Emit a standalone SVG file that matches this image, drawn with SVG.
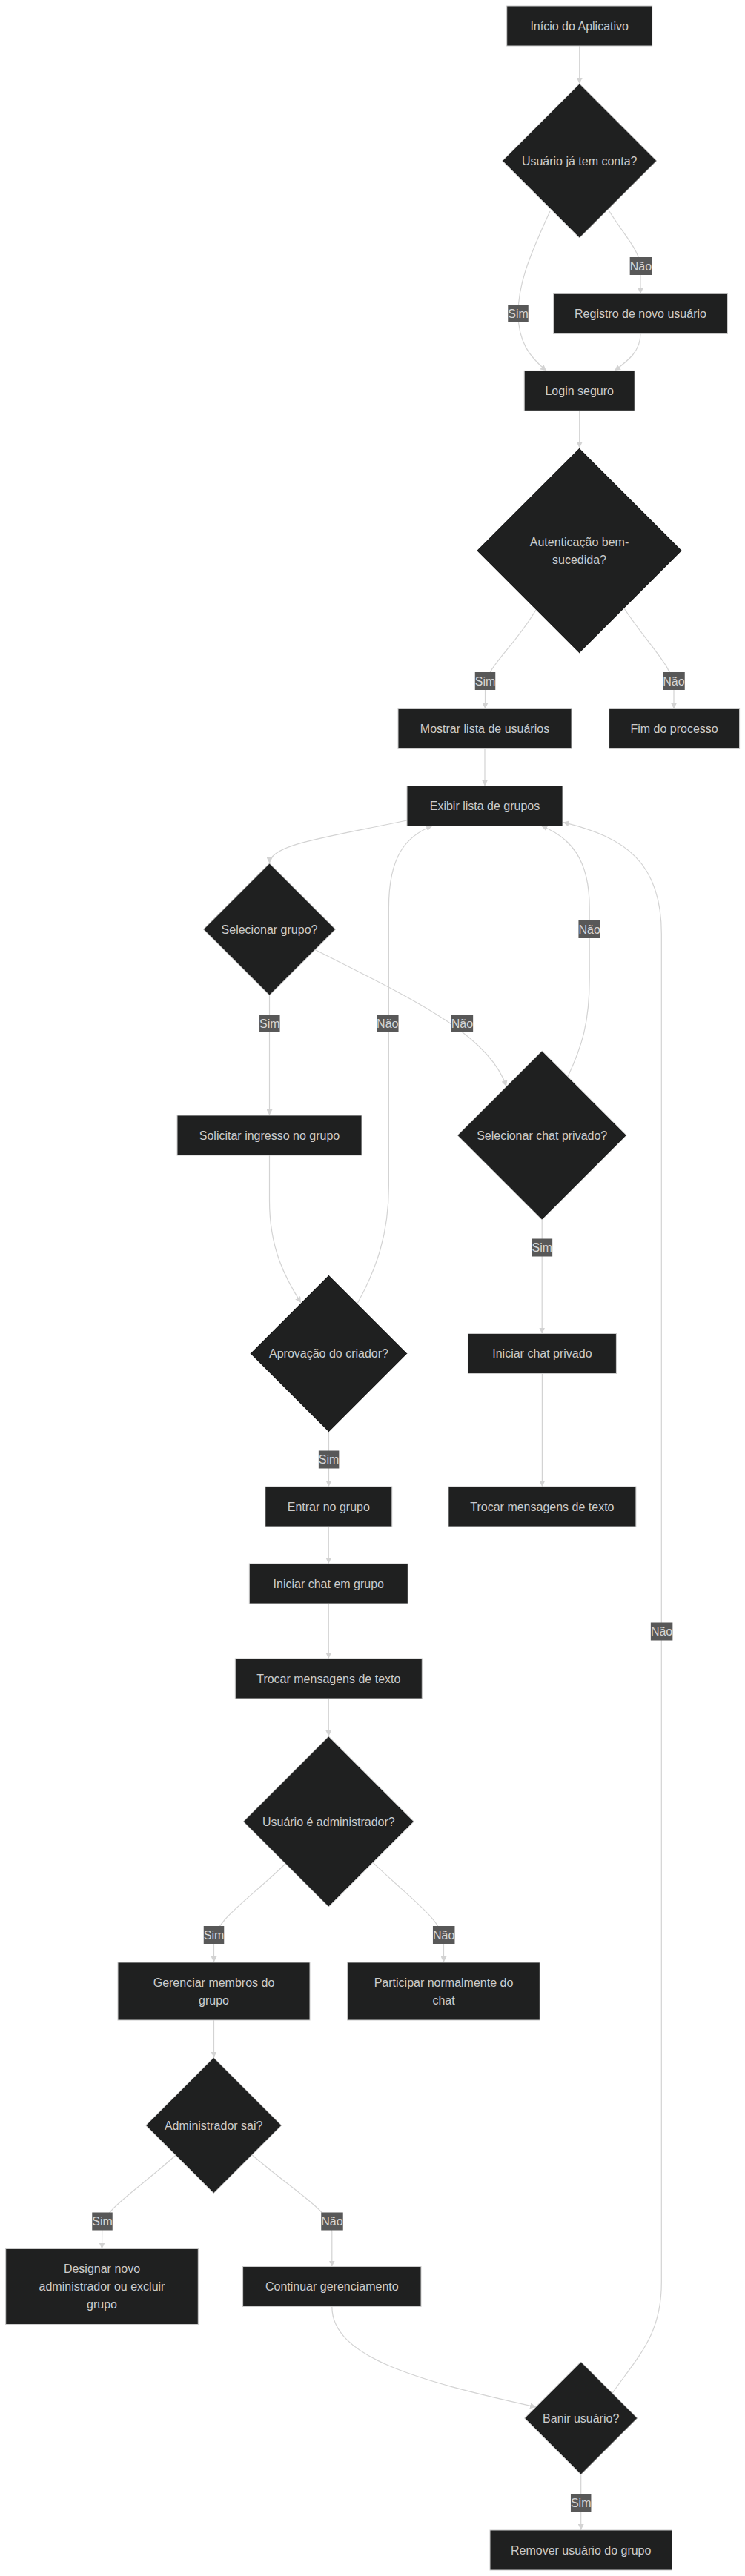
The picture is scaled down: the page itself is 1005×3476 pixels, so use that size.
<svg xmlns="http://www.w3.org/2000/svg" width="1005" height="3476" viewBox="0 0 1005 3476">
<style>
.node rect, .node polygon { fill:#1f2020; stroke:#cccccc; stroke-width:1; }
.node text { fill:#cccccc; font-family:"Liberation Sans", Arial, sans-serif; font-size:16px; text-anchor:middle; dominant-baseline:central; }
.edge { fill:none; stroke:#d3d3d3; stroke-width:1.2; marker-end:url(#arrow); }
.elabel rect { fill:#585858; }
.elabel text { fill:#d6d6d6; font-family:"Liberation Sans", Arial, sans-serif; font-size:16px; text-anchor:middle; dominant-baseline:central; }
</style>
<defs>
<marker id="arrow" viewBox="0 0 10 10" refX="10" refY="5" markerWidth="8" markerHeight="8" markerUnits="userSpaceOnUse" orient="auto">
<path d="M0,0 L10,5 L0,10 z" fill="#d3d3d3"/>
</marker>
</defs>
<rect x="0" y="0" width="1005" height="3476" fill="#ffffff"/>

<g id="connectors">
<path class="edge" d="M781.7,62 L781.7,113"/>
<path class="edge" d="M742,285 C712,350 699,385 699,423 C699,462 715,482 737,500.3"/>
<path class="edge" d="M822,285 C842,318 864,338 864,362 L864,396.3"/>
<path class="edge" d="M864,450 C864,474 848,486 829,500.3"/>
<path class="edge" d="M781.7,554 L781.7,604.5"/>
<path class="edge" d="M723,823 C690,878 654.5,900 654.5,930 L654.5,956.5"/>
<path class="edge" d="M842,821 C878,875 909,900 909,930 L909,956.5"/>
<path class="edge" d="M654,1010.5 L654,1060.5"/>
<path class="edge" d="M549,1107 C430,1132 364,1140 363.5,1165"/>
<path class="edge" d="M363.5,1343 L363.5,1505"/>
<path class="edge" d="M425,1281.5 C550,1345 660,1395 683,1466"/>
<path class="edge" d="M363.5,1559 L363.5,1620 C363.5,1685 385,1725 406,1758"/>
<path class="edge" d="M482,1759 C508,1712 524.4,1665 524.4,1600 L524.4,1225 C524.4,1155 548,1128 583,1114.5"/>
<path class="edge" d="M766,1452.8 C785,1412 795.2,1380 795.2,1320 L795.2,1225 C795.2,1160 770,1130 730.4,1114.5"/>
<path class="edge" d="M731.2,1646 L731.2,1799.5"/>
<path class="edge" d="M731.4,1853.5 L731.4,2006"/>
<path class="edge" d="M443.5,1932.5 L443.5,2006"/>
<path class="edge" d="M443.3,2060 L443.3,2110"/>
<path class="edge" d="M443.3,2164 L443.3,2238"/>
<path class="edge" d="M443.3,2292 L443.3,2343"/>
<path class="edge" d="M385,2515 C330,2568 288.5,2592 288.5,2622 L288.5,2648"/>
<path class="edge" d="M503,2513.3 C558,2566 598.5,2592 598.5,2622 L598.5,2648"/>
<path class="edge" d="M288.5,2726 L288.5,2776.5"/>
<path class="edge" d="M237,2908.3 C182,2958 138,2982 137.8,3008 L137.5,3034.5"/>
<path class="edge" d="M340,2907.7 C398,2958 447,2984 447.8,3012 L447.8,3058.5"/>
<path class="edge" d="M447.8,3112.5 C447.8,3180 560,3212 723,3248"/>
<path class="edge" d="M826,3229.3 C862,3178 892.3,3150 892.3,3080 L892.3,1260 C892.3,1165 845,1130 759.5,1109.5"/>
<path class="edge" d="M783.7,3339 L783.7,3414"/>
</g>

<g id="edge-labels" class="elabel">
<rect x="685.25" y="411" width="27.5" height="24"/><text x="699" y="423">Sim</text>
<rect x="849.65" y="347" width="29.5" height="24"/><text x="864.4" y="359">Não</text>
<rect x="640.75" y="907" width="27.5" height="24"/><text x="654.5" y="919">Sim</text>
<rect x="894.25" y="907" width="29.5" height="24"/><text x="909" y="919">Não</text>
<rect x="350.05" y="1369" width="27.5" height="24"/><text x="363.8" y="1381">Sim</text>
<rect x="508.05" y="1369" width="29.5" height="24"/><text x="522.8" y="1381">Não</text>
<rect x="608.65" y="1369" width="29.5" height="24"/><text x="623.4" y="1381">Não</text>
<rect x="780.45" y="1242" width="29.5" height="24"/><text x="795.2" y="1254">Não</text>
<rect x="717.65" y="1671.5" width="27.5" height="24"/><text x="731.4" y="1683.5">Sim</text>
<rect x="429.85" y="1957.5" width="27.5" height="24"/><text x="443.6" y="1969.5">Sim</text>
<rect x="877.85" y="2189.5" width="29.5" height="24"/><text x="892.6" y="2201.5">Não</text>
<rect x="274.75" y="2599" width="27.5" height="24"/><text x="288.5" y="2611">Sim</text>
<rect x="583.95" y="2599" width="29.5" height="24"/><text x="598.7" y="2611">Não</text>
<rect x="124.25" y="2985.5" width="27.5" height="24"/><text x="138" y="2997.5">Sim</text>
<rect x="433.25" y="2985.5" width="29.5" height="24"/><text x="448" y="2997.5">Não</text>
<rect x="769.95" y="3365" width="27.5" height="24"/><text x="783.7" y="3377">Sim</text>
</g>

<g id="inicio" class="node"><rect x="683.7" y="8" width="196" height="54"/><text x="781.7" y="35">Início do Aplicativo</text></g>
<g id="tem-conta" class="node"><polygon points="781.7,113 885.7,217 781.7,321 677.7,217"/><text x="781.7" y="217">Usuário já tem conta?</text></g>
<g id="registro" class="node"><rect x="746.5" y="396.3" width="235" height="54"/><text x="864" y="423.3">Registro de novo usuário</text></g>
<g id="login" class="node"><rect x="707.2" y="500.3" width="149" height="54"/><text x="781.7" y="527.3">Login seguro</text></g>
<g id="autenticacao" class="node"><polygon points="781.5,604.5 920,743 781.5,881.5 643,743"/><text x="781.5" y="731.5">Autenticação bem-</text><text x="781.5" y="755">sucedida?</text></g>
<g id="mostrar" class="node"><rect x="537" y="956.5" width="234" height="54"/><text x="654" y="983.5">Mostrar lista de usuários</text></g>
<g id="fim" class="node"><rect x="821.6" y="956.5" width="176" height="54"/><text x="909.6" y="983.5">Fim do processo</text></g>
<g id="exibir" class="node"><rect x="549" y="1060.5" width="210" height="54"/><text x="654" y="1087.5">Exibir lista de grupos</text></g>
<g id="sel-grupo" class="node"><polygon points="363.5,1165 452.5,1254 363.5,1343 274.5,1254"/><text x="363.5" y="1254">Selecionar grupo?</text></g>
<g id="solicitar" class="node"><rect x="239" y="1505" width="249" height="54"/><text x="363.5" y="1532">Solicitar ingresso no grupo</text></g>
<g id="sel-chat" class="node"><polygon points="731.2,1418 845.2,1532 731.2,1646 617.2,1532"/><text x="731.2" y="1532">Selecionar chat privado?</text></g>
<g id="aprovacao" class="node"><polygon points="443.5,1720.5 549.5,1826.5 443.5,1932.5 337.5,1826.5"/><text x="443.5" y="1826.5">Aprovação do criador?</text></g>
<g id="iniciar-privado" class="node"><rect x="631.4" y="1799.5" width="200" height="54"/><text x="731.4" y="1826.5">Iniciar chat privado</text></g>
<g id="entrar" class="node"><rect x="357.8" y="2006" width="171" height="54"/><text x="443.3" y="2033">Entrar no grupo</text></g>
<g id="trocar-privado" class="node"><rect x="604.9" y="2006" width="253" height="54"/><text x="731.4" y="2033">Trocar mensagens de texto</text></g>
<g id="iniciar-grupo" class="node"><rect x="336.3" y="2110" width="214" height="54"/><text x="443.3" y="2137">Iniciar chat em grupo</text></g>
<g id="trocar-grupo" class="node"><rect x="317.3" y="2238" width="252" height="54"/><text x="443.3" y="2265">Trocar mensagens de texto</text></g>
<g id="usuario-admin" class="node"><polygon points="443.3,2343 558.3,2458 443.3,2573 328.3,2458"/><text x="443.3" y="2458">Usuário é administrador?</text></g>
<g id="gerenciar" class="node"><rect x="159" y="2648" width="259" height="78"/><text x="288.5" y="2675">Gerenciar membros do</text><text x="288.5" y="2699">grupo</text></g>
<g id="participar" class="node"><rect x="468.7" y="2648" width="259.6" height="78"/><text x="598.5" y="2675">Participar normalmente do</text><text x="598.5" y="2699">chat</text></g>
<g id="admin-sai" class="node"><polygon points="288.2,2776.5 379.7,2868 288.2,2959.5 196.7,2868"/><text x="288.2" y="2868">Administrador sai?</text></g>
<g id="designar" class="node"><rect x="7.7" y="3034.5" width="259.6" height="102"/><text x="137.5" y="3061.5">Designar novo</text><text x="137.5" y="3085.5">administrador ou excluir</text><text x="137.5" y="3109.5">grupo</text></g>
<g id="continuar" class="node"><rect x="327.6" y="3058.5" width="240.4" height="54"/><text x="447.8" y="3085.5">Continuar gerenciamento</text></g>
<g id="banir" class="node"><polygon points="783.7,3187 859.7,3263 783.7,3339 707.7,3263"/><text x="783.7" y="3263">Banir usuário?</text></g>
<g id="remover" class="node"><rect x="661" y="3414" width="245.5" height="54"/><text x="783.7" y="3441">Remover usuário do grupo</text></g>
</svg>
